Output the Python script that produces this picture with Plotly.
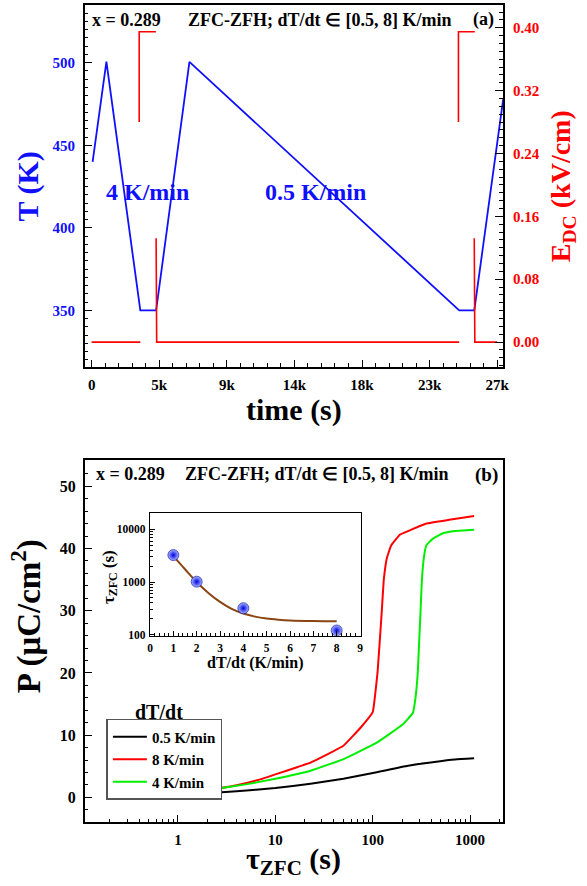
import plotly.graph_objects as go

W, H = 587, 886
def px(x): return x / W
def py(y): return 1 - y / H

FONT = "Liberation Serif"
BLUE = "#1010FF"
RED = "#FF0000"
GREEN = "#00EE00"
BROWN = "#8B4513"

# ---------------- Panel (a) data ----------------
time_T = [65, 983, 3240, 4295, 6510, 24470, 25475, 27400]
temp_T = [440, 500.7, 350, 350, 500.5, 350, 350, 478]

time_E = [0, 3240, None, 3166, 3166, 4280, None, 4292, 4298, 4330, 24470, None,
          24420, 24420, 25510, None, 25472, 25478, 25510, 27000]
field_E = [0, 0, None, 0.280, 0.395, 0.395, None, 0.132, 0.012, 0, 0, None,
           0.280, 0.395, 0.395, None, 0.132, 0.012, 0, 0]

time_ticks = [0, 4500, 9000, 13500, 18000, 22500, 27000]
time_ticklabels = ["0", "5k", "9k", "14k", "18k", "23k", "27k"]
T_ticks = [350, 400, 450, 500]
E_ticks = [0.0, 0.08, 0.16, 0.24, 0.32, 0.40]

# ---------------- Panel (b) data ----------------
tau_05 = [0.22, 0.5, 1, 2, 4, 10, 23, 50, 110, 230, 450, 700, 1100]
P_05 = [0, 0.2, 0.43, 0.7, 1.0, 1.5, 2.2, 3.0, 4.05, 5.1, 5.75, 6.1, 6.3]

tau_8 = [0.3, 0.5, 1, 2, 4, 7, 10, 17, 23, 35, 50, 75, 100, 105, 112, 118, 124,
         130, 140, 155, 190, 240, 355, 610, 1100]
P_8 = [0, 0.3, 0.72, 1.2, 1.95, 2.9, 3.7, 4.9, 5.6, 7.0, 8.3, 11.2, 13.7, 16, 20,
       25, 30, 35, 38.5, 40.5, 42.2, 42.9, 44.0, 44.6, 45.2]

tau_4 = [0.22, 0.5, 1, 2, 5, 10, 23, 51, 110, 206, 259, 275, 290, 300, 310, 320,
         335, 355, 410, 520, 700, 1100]
P_4 = [0, 0.45, 0.75, 1.2, 2.1, 3.0, 4.3, 6.2, 8.8, 11.8, 13.6, 16, 20, 25, 30,
       35, 38.5, 40.5, 41.5, 42.4, 42.8, 43.0]

tau_ticks = [1, 10, 100, 1000]
P_ticks = [0, 10, 20, 30, 40, 50]

# inset
rate_pts = [1, 2, 4, 8]
tau_pts = [3250, 1015, 318, 120]
rate_fit = [1, 1.5, 2, 2.5, 3, 3.5, 4, 4.5, 5, 5.5, 6, 7, 8]
tau_fit = [3100, 1750, 1000, 620, 420, 310, 252, 220, 202, 192, 186, 181, 179]

fig = go.Figure()

fig.add_trace(go.Scatter(x=time_T, y=temp_T, mode="lines", line=dict(color=BLUE, width=1.8),
                         xaxis="x", yaxis="y", showlegend=False))
fig.add_trace(go.Scatter(x=time_E, y=field_E, mode="lines", line=dict(color=RED, width=1.6),
                         xaxis="x", yaxis="y2", showlegend=False, connectgaps=False))

fig.add_trace(go.Scatter(x=tau_05, y=P_05, mode="lines", name="0.5 K/min",
                         line=dict(color="black", width=2, shape="spline", smoothing=0.4), xaxis="x2", yaxis="y3"))
fig.add_trace(go.Scatter(x=tau_8, y=P_8, mode="lines", name="8 K/min",
                         line=dict(color=RED, width=2, shape="spline", smoothing=0.3), xaxis="x2", yaxis="y3"))
fig.add_trace(go.Scatter(x=tau_4, y=P_4, mode="lines", name="4 K/min",
                         line=dict(color=GREEN, width=2, shape="spline", smoothing=0.3), xaxis="x2", yaxis="y3"))

fig.add_trace(go.Scatter(x=rate_fit, y=tau_fit, mode="lines", line=dict(color=BROWN, width=2, shape="spline"),
                         xaxis="x3", yaxis="y4", showlegend=False))
fig.add_trace(go.Scatter(x=rate_pts, y=tau_pts, mode="markers",
                         marker=dict(size=11, color="#A8B8FF",
                                     gradient=dict(type="radial", color="#0000E0"),
                                     line=dict(color="#0000A0", width=0.6)),
                         xaxis="x3", yaxis="y4", showlegend=False))

def tf(size, color="black"):
    return dict(family=FONT, size=size, color=color, weight="bold")

common = dict(showline=True, linecolor="black", linewidth=1.5, ticks="inside",
              tickcolor="black", tickwidth=1.2, showgrid=False, zeroline=False)

fig.update_layout(
    width=W, height=H, margin=dict(l=0, r=0, t=0, b=0),
    paper_bgcolor="white", plot_bgcolor="white",
    font=dict(family=FONT),
    xaxis=dict(domain=[px(83), px(508)], anchor="y", range=[-460, 27400],
               tickmode="array", tickvals=time_ticks, ticktext=time_ticklabels,
               ticklen=7, mirror=True, tickfont=tf(15), ticklabelstandoff=3,
               minor=dict(ticks="inside", dtick=900, tick0=0, ticklen=4, tickcolor="black"),
               **common),
    yaxis=dict(domain=[py(369), py(5)], anchor="x", range=[315.7, 535],
               tickmode="array", tickvals=T_ticks, ticklen=8, mirror=True,
               tickfont=tf(15, BLUE), ticklabelstandoff=5,
               minor=dict(ticks="inside", dtick=5, tick0=0, ticklen=4, tickcolor="black"),
               **common),
    yaxis2=dict(overlaying="y", side="right", anchor="x", range=[-0.0316, 0.429],
                tickmode="array", tickvals=E_ticks, tickformat=".2f", ticklen=8,
                tickfont=tf(15, RED), ticklabelstandoff=5,
                minor=dict(ticks="inside", dtick=0.01, tick0=0, ticklen=4, tickcolor="black"),
                **common),
    xaxis2=dict(domain=[px(83), px(508)], anchor="y3", type="log", range=[-0.957, 3.34],
                tickmode="array", tickvals=tau_ticks, ticktext=["1", "10", "100", "1000"],
                ticklen=8, mirror=True, tickfont=tf(15), ticklabelstandoff=3,
                minor=dict(ticks="inside", tickmode="array", ticklen=4, tickcolor="black",
                           tickvals=[0.2, 0.3, 0.4, 0.5, 0.6, 0.7, 0.8, 0.9,
                                     2, 3, 4, 5, 6, 7, 8, 9,
                                     20, 30, 40, 50, 60, 70, 80, 90,
                                     200, 300, 400, 500, 600, 700, 800, 900, 2000]),
                **common),
    yaxis3=dict(domain=[py(827), py(463)], anchor="x2", range=[-4.0, 54.15],
                tickmode="array", tickvals=P_ticks, ticklen=8, mirror=True,
                tickfont=tf(16), ticklabelstandoff=4,
                minor=dict(ticks="inside", dtick=2, tick0=0, ticklen=4, tickcolor="black"),
                **common),
    xaxis3=dict(domain=[px(149.3), px(363.3)], anchor="y4", range=[0, 9.03],
                tickmode="array", tickvals=list(range(10)), ticklen=5, mirror=True,
                tickfont=tf(11.5), ticklabelstandoff=1,
                minor=dict(ticks="inside", dtick=0.2, tick0=0, ticklen=2.5, tickcolor="black"),
                **{**common, "linewidth": 1.3}),
    yaxis4=dict(domain=[py(639.3), py(516)], anchor="x3", type="log", range=[1.98, 4.31],
                tickmode="array", tickvals=[100, 1000, 10000], ticktext=["100", "1000", "10000"],
                ticklen=5, mirror=True, tickfont=tf(11.5), ticklabelstandoff=1,
                minor=dict(ticks="inside", tickmode="array", ticklen=2.5, tickcolor="black",
                           tickvals=[200, 300, 400, 500, 600, 700, 800, 900,
                                     2000, 3000, 4000, 5000, 6000, 7000, 8000, 9000, 20000]),
                **{**common, "linewidth": 1.3}),
    legend=dict(x=px(105), y=py(723), xanchor="left", yanchor="top",
                bgcolor="white", bordercolor="#555555", borderwidth=1.5,
                font=tf(15), tracegroupgap=0, itemwidth=34),
)

def ann(text, x, y, size, color="black", angle=0, xanchor="center", yanchor="middle"):
    fig.add_annotation(text=text, x=px(x), y=py(y), xref="paper", yref="paper",
                       showarrow=False, textangle=angle, font=tf(size, color),
                       xanchor=xanchor, yanchor=yanchor)

# panel (a) texts
ann("x = 0.289", 88, 20, 18, xanchor="left")
ann("ZFC-ZFH; dT/dt ∈ [0.5, 8] K/min", 186, 20, 18, xanchor="left")
ann("(a)", 501, 20, 18, xanchor="right")
ann("4 K/min", 146.5, 193, 24, BLUE)
ann("0.5 K/min", 317.5, 193, 24, BLUE)
ann("T (K)", 25, 188, 30, BLUE, angle=-90)
ann("E<sub>DC</sub> (kV/cm)", 569, 187, 28, RED, angle=-90)
ann("time (s)", 296, 412, 30)

# panel (b) texts
ann("x = 0.289", 92, 477, 18, xanchor="left")
ann("ZFC-ZFH; dT/dt ∈ [0.5, 8] K/min", 183, 477, 18, xanchor="left")
ann("(b)", 505, 478, 19, xanchor="right")
ann("P (μC/cm<sup>2</sup>)", 24, 620, 33, angle=-90)
ann("τ<sub>ZFC</sub> (s)", 295, 866, 30)
ann("dT/dt", 158, 716, 20)
ann("τ<sub>ZFC</sub> (s)", 108, 580, 17, angle=-90)
ann("dT/dt (K/min)", 256, 667, 16)

fig.write_html("out.html")
